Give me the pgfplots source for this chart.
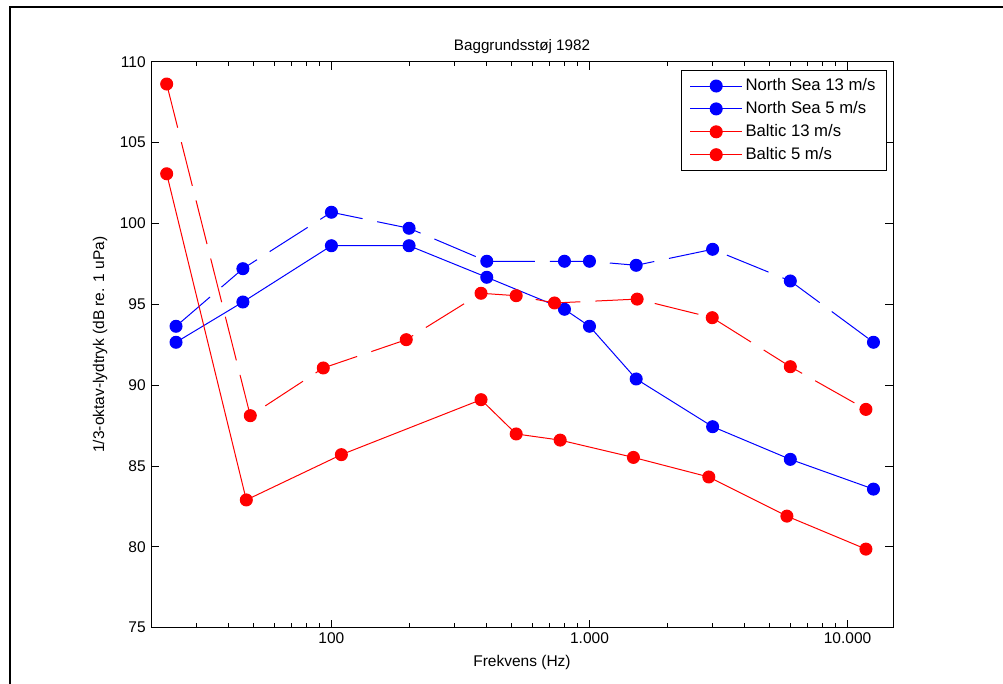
\documentclass[border=0pt]{standalone}
\usepackage{fontspec}
\setmainfont{Liberation Sans}
\usepackage{pgfplots}
\pgfplotsset{compat=1.18}
\begin{document}
\fontsize{15.5}{18}\selectfont
\begin{tikzpicture}
\begin{axis}[
  name=ax,
  scale only axis, width=742pt, height=566pt,
  xmode=log, log basis x=10,
  xmin=20, xmax=15000, ymin=75, ymax=110,
  ytick={75,80,...,110},
  xtick={100,1000,10000}, xticklabels={100,1.000,10.000},
  minor xtick={30,40,50,60,70,80,90,200,300,400,500,600,700,800,900,2000,3000,4000,5000,6000,7000,8000,9000},
  major tick length=8pt, minor tick length=4.5pt,
  tick style={black, line width=0.9pt},
  axis line style={line width=1pt},
  /pgf/number format/assume math mode=true,
  tick label style={font=\fontsize{15.5}{18}\selectfont},
  title={Baggrundsstøj 1982},
  title style={at={(axis description cs:0.5,1.017)}, anchor=center, yshift=0pt, font=\fontsize{15.2}{18}\selectfont},
  xlabel={Frekvens (Hz)},
  xlabel style={at={(axis description cs:0.5,-0.0606)}, anchor=center, font=\fontsize{15.5}{18}\selectfont},
  ylabel={1/3-oktav-lydtryk (dB re. 1 uPa)},
  ylabel style={at={(axis description cs:-0.0687,0.5)}, anchor=center, font=\fontsize{15.5}{18}\selectfont},
  legend style={at={(rel axis cs:0.9915,0.9853)}, anchor=north east, draw=black, line width=1pt,
    font=\fontsize{16.7}{19}\selectfont, inner xsep=7.85pt, inner ysep=7pt, row sep=5.9pt,
    nodes={inner xsep=2.85pt, inner ysep=1pt, text height=12pt, text depth=3pt}},
  legend cell align=left,
  legend image code/.code={\draw[mark repeat=2,mark phase=2,solid,line width=1pt] plot coordinates {(0pt,0pt) (26pt,0pt) (52pt,0pt)};},
  every axis plot/.append style={line width=1pt, mark=*, mark size=6pt, mark options={solid}},
]
\addplot[blue, dash pattern=on 45pt off 15pt] coordinates {
(25,93.64) (45.4,97.2) (100,100.69) (200,99.7) (400,97.66) (800,97.66) (1000,97.66) (1517,97.41) (3000,98.4) (6000,96.44) (12600,92.65)};
\addlegendentry{North Sea 13 m/s}
\addplot[blue] coordinates {
(25,92.65) (45.4,95.14) (100,98.62) (200,98.62) (400,96.67) (800,94.69) (1000,93.64) (1517,90.38) (3000,87.43) (6000,85.41) (12600,83.57)};
\addlegendentry{North Sea 5 m/s}
\addplot[red, dash pattern=on 45pt off 15pt] coordinates {
(23,108.62) (48.5,88.11) (93,91.06) (195,92.81) (380,95.68) (520,95.53) (732,95.08) (1530,95.32) (2990,94.17) (6000,91.14) (11780,88.5)};
\addlegendentry{Baltic 13 m/s}
\addplot[red] coordinates {
(23,103.07) (46.8,82.9) (109.3,85.7) (380,89.1) (520,86.98) (770,86.6) (1480,85.53) (2900,84.32) (5820,81.9) (11780,79.86)};
\addlegendentry{Baltic 5 m/s}
\end{axis}
\draw[line width=2pt] ([xshift=-140.5pt,yshift=-56pt]ax.south west) -- ([xshift=-140.5pt,yshift=54.2pt]ax.north west) -- ([xshift=111pt,yshift=54.2pt]ax.north east);
\pgfresetboundingbox
\path ([xshift=-151pt,yshift=-55.3pt]ax.south west) rectangle ([xshift=110pt,yshift=61.7pt]ax.north east);
\end{tikzpicture}
\end{document}
